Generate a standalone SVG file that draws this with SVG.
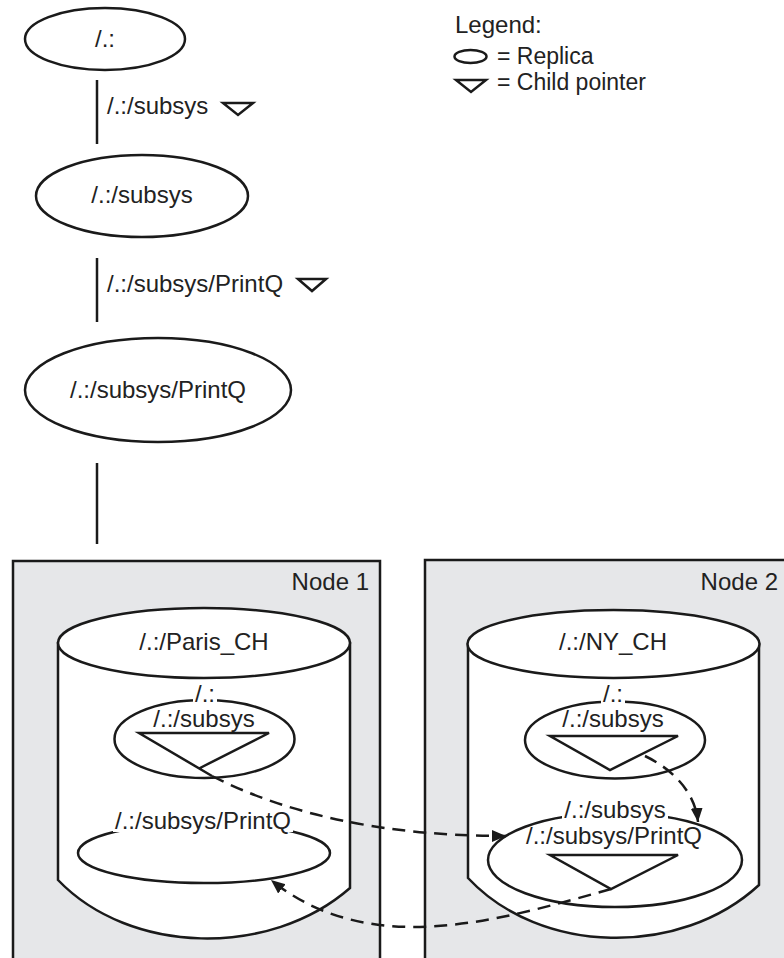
<svg xmlns="http://www.w3.org/2000/svg" width="784" height="958" viewBox="0 0 784 958">
  <style>
    text { font-family: "Liberation Sans", Arial, sans-serif; font-size: 24px; fill: #222; }
    .mid { text-anchor: middle; }
    .end { text-anchor: end; }
    .knock { fill: #fff; stroke: none; }
    .shape { fill: #fff; stroke: #1a1a1a; stroke-width: 2.5; }
    .ptr { fill: none; stroke: #1a1a1a; stroke-width: 2.5; stroke-linejoin: miter; }
    .box { fill: #e6e7e9; stroke: #1a1a1a; stroke-width: 2.5; }
    .link { fill: none; stroke: #1a1a1a; stroke-width: 2.5; }
    .dash { fill: none; stroke: #1a1a1a; stroke-width: 2.5; stroke-dasharray: 13 8; }
  </style>
  <defs>
    <marker id="arrow" markerUnits="userSpaceOnUse" markerWidth="16" markerHeight="14" refX="14" refY="6" orient="auto">
      <path d="M0,0 L14,6 L0,12 Z" fill="#1a1a1a"/>
    </marker>
  </defs>

  <!-- Legend -->
  <g id="legend">
    <text x="455" y="33">Legend:</text>
    <ellipse cx="470.5" cy="56.5" rx="16" ry="6.5" class="ptr"/>
    <text x="497" y="64" style="font-size:23px">= Replica</text>
    <path d="M456,80 L486,80 L471,92 Z" class="ptr"/>
    <text x="497" y="90" style="font-size:23px">= Child pointer</text>
  </g>

  <!-- Namespace hierarchy -->
  <g id="root">
    <ellipse cx="105" cy="39" rx="80" ry="31" class="shape"/>
    <text x="105" y="47" class="mid">/.:</text>
  </g>
  <g id="subsys">
    <ellipse cx="142" cy="196" rx="106" ry="41" class="shape"/>
    <text x="142" y="203" class="mid">/.:/subsys</text>
  </g>
  <g id="printq">
    <ellipse cx="158" cy="390" rx="133" ry="52" class="shape"/>
    <text x="158" y="398" class="mid">/.:/subsys/PrintQ</text>
  </g>

  <!-- Node 1 -->
  <g id="node1">
    <rect x="13" y="561" width="367" height="410" class="box"/>
    <text x="369" y="590" class="end">Node 1</text>
    <path d="M58,643 L58,880 C130,955 270,958 350,888 L350,643 Z" class="shape"/>
    <ellipse cx="204" cy="643" rx="146" ry="35" class="shape"/>
    <text x="204" y="650" class="mid">/.:/Paris_CH</text>
  </g>
  <g id="paris-root">
    <ellipse cx="204.5" cy="739" rx="90" ry="39" class="shape"/>
    <path d="M212,776 L139,733 L269,733 L200,768" class="ptr"/>
    <rect x="193" y="688" width="24" height="16" class="knock"/>
    <text x="205" y="702" class="mid">/.:</text>
    <text x="204" y="727" class="mid">/.:/subsys</text>
  </g>
  <g id="paris-printq">
    <ellipse cx="204" cy="853" rx="126" ry="30" class="shape"/>
    <rect x="113" y="811" width="180" height="21" class="knock"/>
    <text x="203" y="829" class="mid">/.:/subsys/PrintQ</text>
  </g>

  <!-- Node 2 -->
  <g id="node2">
    <rect x="425" y="560" width="380" height="410" class="box"/>
    <text x="778" y="590" class="end">Node 2</text>
    <path d="M468,644 L468,878 C540,955 680,958 759,885 L759,644 Z" class="shape"/>
    <ellipse cx="613.5" cy="644" rx="146" ry="34" class="shape"/>
    <text x="613" y="650" class="mid">/.:/NY_CH</text>
  </g>
  <g id="ny-root">
    <ellipse cx="615" cy="740" rx="90" ry="38.5" class="shape"/>
    <path d="M550,736 L678,736 L610,770 Z" class="ptr"/>
    <rect x="601" y="688" width="24" height="16" class="knock"/>
    <text x="613" y="702" class="mid">/.:</text>
    <text x="613" y="727" class="mid">/.:/subsys</text>
  </g>
  <g id="ny-subsys">
    <ellipse cx="615" cy="860" rx="127" ry="47" class="shape"/>
    <path d="M550,855 L678,855 L611,889 Z" class="ptr"/>
    <rect x="562" y="800" width="106" height="22" class="knock"/>
    <text x="615" y="818" class="mid">/.:/subsys</text>
    <text x="614" y="844" class="mid">/.:/subsys/PrintQ</text>
  </g>

  <!-- Connectors -->
  <g id="connectors">
    <line x1="97" y1="80" x2="97" y2="144" class="link"/>
    <text x="107" y="114">/.:/subsys</text>
    <path d="M223,103 L253,103 L238,115 Z" class="ptr"/>

    <line x1="97" y1="258" x2="97" y2="322" class="link"/>
    <text x="107" y="292">/.:/subsys/PrintQ</text>
    <path d="M298,279 L326,279 L312,291 Z" class="ptr"/>

    <line x1="97" y1="463" x2="97" y2="544" class="link"/>

    <path d="M212,776 Q330,836 506,836" class="dash" marker-end="url(#arrow)"/>
    <path d="M611,889 C500,920 370,960 271,880" class="dash" marker-end="url(#arrow)"/>
    <path d="M645,756 C670,768 695,790 698,822" class="dash" marker-end="url(#arrow)"/>
  </g>
</svg>
